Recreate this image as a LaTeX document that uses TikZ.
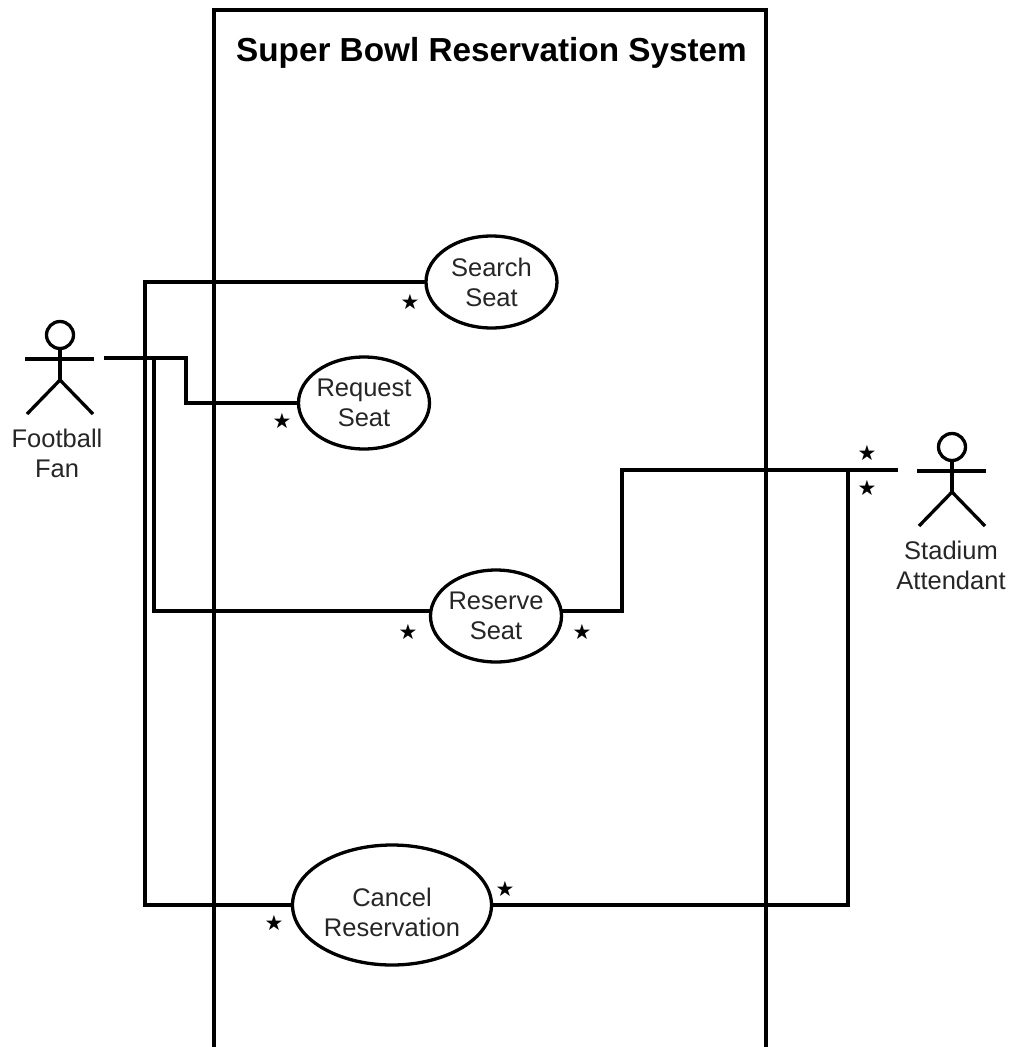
\documentclass[tikz,border=0pt]{standalone}
\usepackage{fontspec}
\setmainfont{Liberation Sans}
\newfontfamily\symfont{DejaVu Sans}
\usetikzlibrary{shapes.geometric}
\tikzset{
  line/.style={draw=black,line width=3.3pt,line join=miter},
  usecase/.style={ellipse,draw=black,line width=3.3pt,fill=white,inner sep=-8pt,outer sep=0pt,align=center,font=\fontsize{25.5}{30}\selectfont,text=black!85},
  lbl/.style={align=center,font=\fontsize{25.5}{30}\selectfont,text=black!85,inner sep=0pt},
  star/.style={font=\symfont\fontsize{21}{21}\selectfont,inner sep=0pt,text=black},
}
\begin{document}
\begin{tikzpicture}[x=1pt,y=-1pt]
\useasboundingbox (0,0) rectangle (1012,1047);
\fill[white] (0,0) rectangle (1012,1047);
% system box
\coordinate (sysBL) at (214,1047);
\coordinate (sysTL) at (214,10);
\coordinate (sysTR) at (766,10);
\coordinate (sysBR) at (766,1047);
\draw[line] (sysBL) -- (sysTL) -- (sysTR) -- (sysBR);
\node[inner sep=0pt,font=\fontsize{33.3}{36}\selectfont\bfseries] (title) at (491.5,53) {Super Bowl Reservation System};
% use cases
\node[usecase,minimum width=131pt,minimum height=92pt] (search) at (491.5,282) {Search\\Seat};
\node[usecase,minimum width=131pt,minimum height=92pt] (request) at (364,403) {Request\\Seat};
\node[usecase,minimum width=131pt,minimum height=92pt] (reserve) at (496,616) {Reserve\\Seat};
\node[usecase,minimum width=199pt,minimum height=120pt] (cancel) at (392,905) {};
\node[lbl] (cancelText) at (392,912) {Cancel\\Reservation};
% fan
\node[circle,draw=black,line width=3.3pt,minimum size=27pt,inner sep=0pt] (fanHead) at (60,335) {};
\coordinate (fanHip) at (60,380);
\coordinate (fanArmL) at (25,359);
\coordinate (fanArmR) at (94,359);
\coordinate (fanLegL) at (27,414);
\coordinate (fanLegR) at (93,414);
\draw[line] (fanHead.south) -- (fanHip);
\draw[line] (fanArmL) -- (fanArmR);
\draw[line] (fanLegL) -- (fanHip) -- (fanLegR);
\node[lbl] (fanLabel) at (57,453) {Football\\Fan};
% attendant
\node[circle,draw=black,line width=3.3pt,minimum size=27pt,inner sep=0pt] (attHead) at (952,447) {};
\coordinate (attHip) at (952,492);
\coordinate (attArmL) at (917,471);
\coordinate (attArmR) at (986,471);
\coordinate (attLegL) at (919,526);
\coordinate (attLegR) at (985,526);
\draw[line] (attHead.south) -- (attHip);
\draw[line] (attArmL) -- (attArmR);
\draw[line] (attLegL) -- (attHip) -- (attLegR);
\node[lbl] (attLabel) at (951,565) {Stadium\\Attendant};
% connectors
\coordinate (fanEnd) at (104,358);
\coordinate (attEnd) at (898,470);
\draw[line] (fanEnd) -- (186,358) -- (186,403) -- (request.west);
\draw[line] (145,358) -- (145,282) -- (search.west);
\draw[line] (154,358) -- (154,611) -- (reserve.west |- 0,611);
\draw[line] (145,358) -- (145,905) -- (cancel.west);
\draw[line] (reserve.east |- 0,611) -- (622,611) -- (622,470) -- (attEnd);
\draw[line] (cancel.east) -- (848,905) -- (848,470);
% stars
\node[star] (s1) at (410,302) {★};
\node[star] (s2) at (282,421) {★};
\node[star] (s3) at (408,632) {★};
\node[star] (s4) at (582,632) {★};
\node[star] (s5) at (274,923) {★};
\node[star] (s6) at (505,889) {★};
\node[star] (s7) at (867,453) {★};
\node[star] (s8) at (867,488) {★};
\end{tikzpicture}
\end{document}
